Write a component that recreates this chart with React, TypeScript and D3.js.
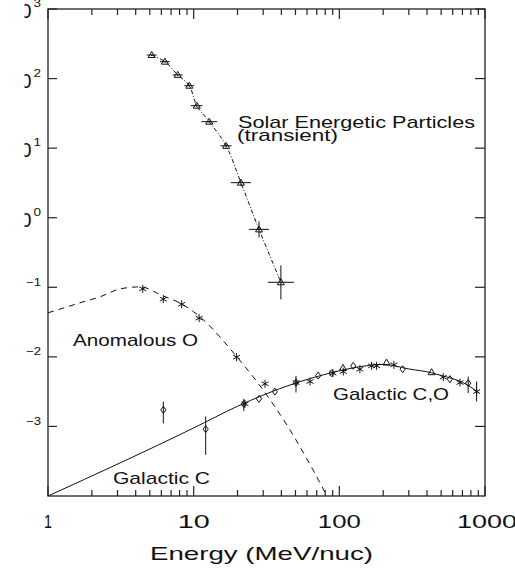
import React from "react";
import * as d3 from "d3";

// ---------- data ----------
// Solar Energetic Particles (triangles, dash-dot fit)
const sepE = [5.15, 6.35, 7.77, 9.33, 10.5, 12.8, 16.7, 21.1, 28.1, 39.7];
const sepF = [218, 175, 113, 79, 40.8, 24, 10.8, 3.19, 0.68, 0.118];
const sepELo = [4.76, 5.87, 7.18, 8.62, 9.55, 11.3, 15.3, 18.0, 24.0, 32.3];
const sepEHi = [5.57, 6.87, 8.41, 10.1, 11.5, 14.5, 18.2, 24.7, 32.9, 48.8];
const sepFLo = [212, 170, 109, 76, 39, 23, 10.2, 2.89, 0.52, 0.067];
const sepFHi = [224, 180, 117, 82, 42.5, 25, 11.4, 3.52, 0.89, 0.207];

// Anomalous O (asterisks, dashed fit)
const anoE = [4.47, 6.19, 8.27, 10.9, 19.7, 30.9];
const anoF = [0.095, 0.0675, 0.057, 0.036, 0.0099, 0.0041];
const anoFitE = [1, 1.35, 1.74, 2.27, 3.12, 4.28, 6.15, 8.3, 10.86, 19.8, 27.2, 45.8, 65.9, 82.2];
const anoFitF = [0.043, 0.0522, 0.0617, 0.0728, 0.0948, 0.1014, 0.0752, 0.0575, 0.0388, 0.01, 0.00438, 0.000893, 0.000238, 0.0001];

// Galactic (solid fit)
const galFitE = [1, 10, 20, 30, 50, 70, 100, 150, 200, 300, 430, 500, 700, 900];
const galFitF = [1e-4, 0.00095, 0.00195, 0.00282, 0.0042, 0.0052, 0.0063, 0.0074, 0.0078, 0.0067, 0.0059, 0.0054, 0.0043, 0.0031];

// Galactic C (diamonds)
const galCE = [6.19, 12.09, 22.1, 28.1, 36.1, 50.4, 71.6, 88.5, 124.6, 272, 574, 767];
const galCF = [0.00173, 0.000914, 0.00211, 0.00249, 0.00317, 0.00427, 0.00538, 0.00583, 0.00743, 0.00665, 0.00478, 0.00419];
const galCFLo = [0.00111, 0.000391, 0.00167, null, null, 0.00307, null, null, null, null, null, 0.00301];
const galCFHi = [0.00228, 0.00139, 0.00249, null, null, 0.00533, null, null, null, null, null, 0.00521];

// Galactic O (asterisks)
const galOE = [22.5, 50.4, 62.9, 90.4, 106.4, 138.4, 166.6, 180.3, 237, 517, 673, 876];
const galOF = [0.00211, 0.00427, 0.00442, 0.00583, 0.00615, 0.00665, 0.00743, 0.00743, 0.00768, 0.0051, 0.00427, 0.00317];
const galOFLo = [null, null, null, null, null, null, null, null, null, null, null, 0.00228];
const galOFHi = [null, null, null, null, null, null, null, null, null, null, null, 0.00442];

// Galactic (triangles)
const galTE = [105.9, 211, 430];
const galTF = [0.00695, 0.00828, 0.00602];

// axes
const xMajor = [1, 10, 100, 1000];
const xLabels = ["1", "10", "100", "1000"];
const yExps = [3, 2, 1, 0, -1, -2, -3];

// ---------- layout ----------
const L = 48, R = 485, T = 9, B = 496;
const FONT = "'Liberation Sans', 'DejaVu Sans', sans-serif";
const INK = "#111";
const xLabelLen = [8, 32, 43, 60];
const xLabelDx = [0, 0, 0, 2];

const x = d3.scaleLog().domain([1, 1000]).range([L, R]);
const y = d3.scaleLog().domain([1e-4, 1e3]).range([B, T]);

const xMinor: number[] = [];
[1, 10, 100].forEach((d) => {
  for (let k = 2; k <= 9; k++) xMinor.push(d * k);
});

const lineGen = (curve: any) =>
  d3
    .line<[number, number]>()
    .x((d) => x(d[0]))
    .y((d) => y(d[1]))
    .curve(curve);

const zip = (a: number[], b: number[]) => a.map((v, i) => [v, b[i]] as [number, number]);

function Triangle({ cx, cy }: { cx: number; cy: number }) {
  return (
    <path
      d={`M${cx},${cy - 3.5}L${cx + 3.5},${cy + 2.5}L${cx - 3.5},${cy + 2.5}Z`}
      fill="none"
      stroke={INK}
      strokeWidth={1}
    />
  );
}

function Asterisk({ cx, cy }: { cx: number; cy: number }) {
  const r = 4;
  const segs = [90, 30, 150].map((a) => {
    const rad = (a * Math.PI) / 180;
    return [Math.cos(rad) * r, Math.sin(rad) * r];
  });
  return (
    <g stroke={INK} strokeWidth={1}>
      {segs.map(([dx, dy], i) => (
        <line key={i} x1={cx - dx} y1={cy - dy} x2={cx + dx} y2={cy + dy} />
      ))}
    </g>
  );
}

function Diamond({ cx, cy }: { cx: number; cy: number }) {
  return (
    <path
      d={`M${cx},${cy - 3.5}L${cx + 2.6},${cy}L${cx},${cy + 3.5}L${cx - 2.6},${cy}Z`}
      fill="none"
      stroke={INK}
      strokeWidth={1}
    />
  );
}

function T2({ x: tx, y: ty, w, size, anchor = "start", children }: any) {
  return (
    <text
      x={tx}
      y={ty}
      fontSize={size}
      textAnchor={anchor}
      textLength={w}
      lengthAdjust="spacingAndGlyphs"
    >
      {children}
    </text>
  );
}

export default function App() {
  const sepPath = lineGen(d3.curveCatmullRom)(zip(sepE, sepF)) || "";
  const anoPath = lineGen(d3.curveMonotoneX)(zip(anoFitE, anoFitF)) || "";
  const galPath = lineGen(d3.curveMonotoneX)(zip(galFitE, galFitF)) || "";

  return (
    <svg
      width={515}
      height={570}
      style={{ position: "absolute", left: 0, top: 0, background: "#fff" }}
      fontFamily={FONT}
    >
      <defs>
        <clipPath id="plotClip">
          <rect x={L} y={T} width={R - L} height={B - T} />
        </clipPath>
        <clipPath id="ylabClip">
          <rect x={24.5} y={0} width={100} height={570} />
        </clipPath>
      </defs>
      <rect x={0} y={0} width={515} height={570} fill="#fff" />

      {/* curves */}
      <g clipPath="url(#plotClip)" fill="none" stroke={INK} strokeWidth={1}>
        <path d={galPath} />
        <path d={anoPath} strokeDasharray="6,5" />
        <path d={sepPath} strokeDasharray="4,2,1,2" />
      </g>

      {/* SEP points */}
      <g stroke={INK} strokeWidth={1}>
        {sepE.map((e, i) => (
          <g key={i}>
            <line x1={x(sepELo[i])} x2={x(sepEHi[i])} y1={y(sepF[i])} y2={y(sepF[i])} />
            <line x1={x(e)} x2={x(e)} y1={y(sepFLo[i])} y2={y(sepFHi[i])} />
            <Triangle cx={x(e)} cy={y(sepF[i])} />
          </g>
        ))}
      </g>

      {/* Anomalous O points */}
      {anoE.map((e, i) => (
        <Asterisk key={i} cx={x(e)} cy={y(anoF[i])} />
      ))}

      {/* Galactic C diamonds */}
      <g stroke={INK} strokeWidth={1}>
        {galCE.map((e, i) => (
          <g key={i}>
            {galCFLo[i] != null && (
              <line x1={x(e)} x2={x(e)} y1={y(galCFLo[i] as number)} y2={y(galCFHi[i] as number)} />
            )}
            <Diamond cx={x(e)} cy={y(galCF[i])} />
          </g>
        ))}
      </g>

      {/* Galactic O asterisks */}
      <g stroke={INK} strokeWidth={1}>
        {galOE.map((e, i) => (
          <g key={i}>
            {galOFLo[i] != null && (
              <line x1={x(e)} x2={x(e)} y1={y(galOFLo[i] as number)} y2={y(galOFHi[i] as number)} />
            )}
            <Asterisk cx={x(e)} cy={y(galOF[i])} />
          </g>
        ))}
      </g>

      {/* Galactic triangles */}
      {galTE.map((e, i) => (
        <Triangle key={i} cx={x(e)} cy={y(galTF[i])} />
      ))}

      {/* frame */}
      <rect x={L} y={T} width={R - L} height={B - T} fill="none" stroke="#222" strokeWidth={1.3} />
      <g stroke="#222" strokeWidth={1.2}>
        {xMinor.map((v) => (
          <g key={v}>
            <line x1={x(v)} x2={x(v)} y1={B} y2={B - 6} />
            <line x1={x(v)} x2={x(v)} y1={T} y2={T + 6} />
          </g>
        ))}
        {xMajor.map((v) => (
          <g key={v}>
            <line x1={x(v)} x2={x(v)} y1={B} y2={B - 10} />
            <line x1={x(v)} x2={x(v)} y1={T} y2={T + 10} />
          </g>
        ))}
        {yExps.map((p) => (
          <g key={p}>
            <line x1={L} x2={L + 9} y1={y(Math.pow(10, p))} y2={y(Math.pow(10, p))} />
            <line x1={R} x2={R - 10} y1={y(Math.pow(10, p))} y2={y(Math.pow(10, p))} />
          </g>
        ))}
      </g>

      {/* y tick labels (clipped at left) */}
      <g clipPath="url(#ylabClip)" fill={INK}>
        {yExps.map((p) => {
          const ty = y(Math.pow(10, p));
          return (
            <g key={p}>
              <T2 x={p >= 0 ? 31.5 : 23} y={ty + 9.3} w={22} size={21} anchor="end">
                10
              </T2>
              <T2 x={41} y={ty - 1.7} w={p >= 0 ? 7.5 : 15} size={11} anchor="end">
                {p < 0 ? "\u2212" + String(-p) : String(p)}
              </T2>
            </g>
          );
        })}
      </g>

      {/* x tick labels */}
      <g fill={INK}>
        {xMajor.map((v, i) => (
          <T2 key={v} x={x(v) + xLabelDx[i]} y={528} w={xLabelLen[i]} size={18} anchor="middle">
            {xLabels[i]}
          </T2>
        ))}
        <T2 x={261.5} y={560} w={223} size={19} anchor="middle">
          Energy (MeV/nuc)
        </T2>
      </g>

      {/* series labels */}
      <g fill={INK}>
        <T2 x={238} y={127.5} w={237} size={17}>
          Solar Energetic Particles
        </T2>
        <T2 x={237} y={141} w={101} size={17}>
          (transient)
        </T2>
        <T2 x={73} y={346} w={125} size={17}>
          Anomalous O
        </T2>
        <T2 x={333} y={400} w={116} size={17}>
          Galactic C,O
        </T2>
        <T2 x={113} y={484} w={97} size={17}>
          Galactic C
        </T2>
      </g>
    </svg>
  );
}
